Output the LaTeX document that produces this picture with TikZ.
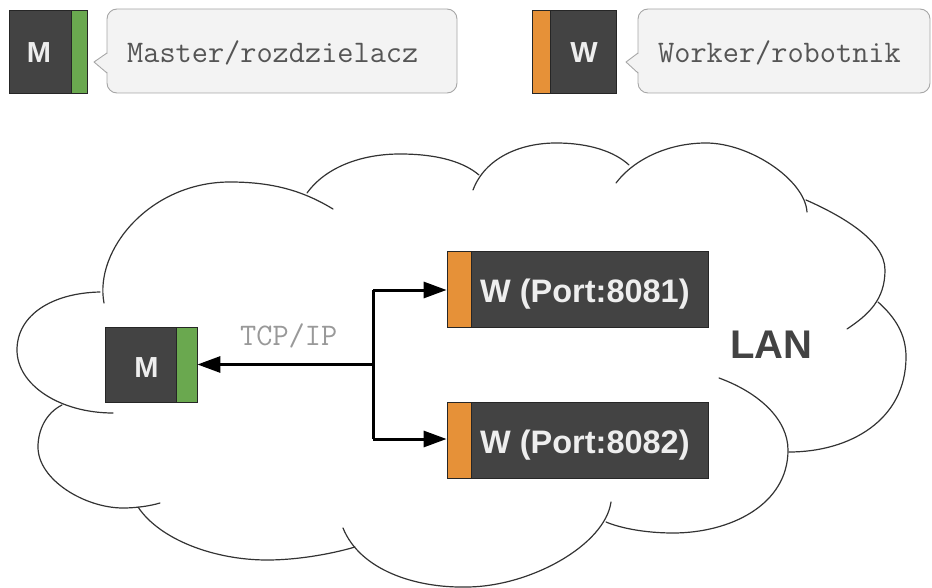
\documentclass[tikz,border=0pt]{standalone}
\usepackage{fontspec}
\setmainfont{Liberation Sans}
\usetikzlibrary{arrows.meta}
\definecolor{boxdark}{HTML}{434343}
\definecolor{boxline}{HTML}{262626}
\definecolor{mgreen}{HTML}{6AA84F}
\definecolor{worange}{HTML}{E69138}
\definecolor{boxtext}{HTML}{EEEEEE}
\definecolor{callfill}{HTML}{F3F3F3}
\definecolor{callline}{HTML}{A6A6A6}
\definecolor{calltext}{HTML}{555555}
\definecolor{tcptext}{HTML}{999999}
\definecolor{cloudline}{HTML}{333333}
\begin{document}
\begin{tikzpicture}[x=1pt,y=-1pt,
  box/.style={draw=boxline,line width=0.8pt,fill=boxdark,inner sep=0pt},
  strip/.style={draw=boxline,line width=0.8pt},
  boxlabel/.style={text=boxtext,font=\bfseries\fontsize{29}{29}\selectfont,inner sep=0pt,anchor=base},
  wlabel/.style={text=boxtext,font=\bfseries\fontsize{32.5}{32.5}\selectfont,inner sep=0pt,anchor=base west},
  calltxt/.style={text=calltext,font=\ttfamily\fontsize{31.4}{31.4}\selectfont,inner sep=0pt,anchor=base west},
  callbody/.style={draw=callline,fill=callfill,line width=0.9pt,rounded corners=10pt},
  cloudedge/.style={draw=cloudline,line width=1.2pt,line cap=round},
  link/.style={draw=black,line width=3pt,-{Triangle[length=23pt,width=16pt]}},
  plainlink/.style={draw=black,line width=3pt}
]
\useasboundingbox (0,0) rectangle (932,588);

% ---------- legend: master ----------
\node[box,minimum width=78pt,minimum height=83pt] (mleg) at (48,51.5) {};
\draw[strip,fill=mgreen] (71,10) rectangle (87,93);
\node[boxlabel] (mlegtxt) at (39,63) {M};
\draw[callbody] (107,9) rectangle (457,93);
\fill[callfill] (108.5,53) -- (94,62) -- (108.5,73) -- cycle;
\draw[draw=callline,line width=0.9pt,line join=round] (107,53) -- (94,62) -- (107,73);
\node[calltxt] (mcall) at (127,63) {Master/rozdzielacz};

% ---------- legend: worker ----------
\node[box,minimum width=84pt,minimum height=83pt] (wleg) at (574,51.5) {};
\draw[strip,fill=worange] (532,10) rectangle (550,93);
\node[boxlabel] (wlegtxt) at (584,63) {W};
\draw[callbody] (638,9) rectangle (930,93);
\fill[callfill] (639.5,53) -- (626,62) -- (639.5,73) -- cycle;
\draw[draw=callline,line width=0.9pt,line join=round] (638,53) -- (626,62) -- (638,73);
\node[calltxt] (wcall) at (658,63) {Worker/robotnik};

% ---------- cloud ----------
\draw[cloudedge] (100,292) .. controls (52,293) and (17,315) .. (17,350)
                           .. controls (17,385) and (60,413) .. (113,413);
\draw[cloudedge] (104,303) .. controls (94,250) and (150,182) .. (230,182)
                           .. controls (275,182) and (305,192) .. (333,209);
\draw[cloudedge] (307,193) .. controls (325,168) and (360,154) .. (400,154)
                           .. controls (440,154) and (465,163) .. (479,175);
\draw[cloudedge] (473,190) .. controls (485,158) and (520,143) .. (556,143)
                           .. controls (590,143) and (615,152) .. (629,165);
\draw[cloudedge] (616,183) .. controls (635,158) and (670,143) .. (706,143)
                           .. controls (750,143) and (805,180) .. (807,212);
\draw[cloudedge] (806,200) .. controls (840,215) and (885,240) .. (885,270)
                           .. controls (885,300) and (868,315) .. (847,329);
\draw[cloudedge] (878,302) .. controls (896,318) and (906,335) .. (906,357)
                           .. controls (906,420) and (850,452) .. (789,452);
\draw[cloudedge] (719,378) .. controls (760,393) and (788,420) .. (788,450)
                           .. controls (788,505) and (730,533) .. (673,533)
                           .. controls (645,533) and (620,528) .. (606,522);
\draw[cloudedge] (343,528) .. controls (360,570) and (415,588) .. (466,587)
                           .. controls (530,587) and (605,545) .. (611,502);
\draw[cloudedge] (138,507) .. controls (160,540) and (215,560) .. (267,560)
                           .. controls (300,560) and (335,553) .. (355,547);
\draw[cloudedge] (62,405) .. controls (46,413) and (38,430) .. (38,447)
                          .. controls (38,480) and (85,508) .. (123,508)
                          .. controls (136,508) and (150,506) .. (160,503);

% ---------- nodes ----------
\node[box,minimum width=92pt,minimum height=75pt] (m) at (151,364.5) {};
\draw[strip,fill=mgreen] (176,327) rectangle (197,402);
\node[boxlabel] (mtxt) at (146.5,377) {M};

\node[box,minimum width=261pt,minimum height=76pt] (w1) at (577.5,289) {};
\draw[strip,fill=worange] (447,251) rectangle (471,327);
\node[wlabel] (w1txt) at (480,302) {W (Port:8081)};

\node[box,minimum width=261pt,minimum height=76pt] (w2) at (577.5,440) {};
\draw[strip,fill=worange] (447,402) rectangle (471,478);
\node[wlabel] (w2txt) at (480,453) {W (Port:8082)};

% ---------- connectors ----------
\coordinate (j) at (373,364.5);
\coordinate (jtop) at (373,290);
\coordinate (jbot) at (373,439);
\draw[plainlink] (jtop) -- (jbot);
\draw[link] (j) -- (m.east);
\draw[link] (jtop) -- (jtop -| w1.west);
\draw[link] (jbot) -- (jbot -| w2.west);
\node[calltxt,text=tcptext] (tcp) at (240,345) {TCP/IP};

\node[inner sep=0pt,anchor=base west,text=boxdark,font=\bfseries\fontsize{40}{40}\selectfont] (lan) at (730,358) {LAN};
\end{tikzpicture}
\end{document}
